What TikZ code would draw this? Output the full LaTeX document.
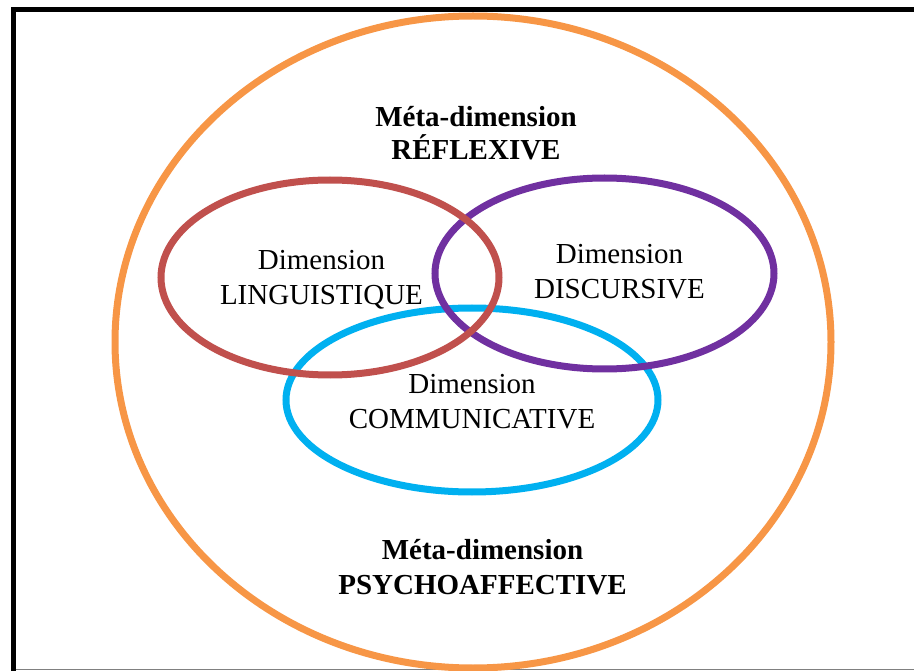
\documentclass[tikz,border=0pt]{standalone}
\usepackage{fontspec}
\setmainfont{Liberation Serif}
\usepackage{tikz}
\usetikzlibrary{positioning}

\definecolor{ringorange}{HTML}{F79646}
\definecolor{ringred}{HTML}{C0504D}
\definecolor{ringpurple}{HTML}{7030A0}
\definecolor{ringblue}{HTML}{00B0F0}

\begin{document}
\begin{tikzpicture}[
    x=1pt, y=-1pt,
    ring/.style={line width=7pt},
    dimlabel/.style={align=center, inner sep=0pt, font=\fontsize{29}{35}\selectfont},
    metalabel/.style={align=center, inner sep=0pt, font=\fontsize{29}{35}\selectfont\bfseries}
]
\useasboundingbox (0,0) rectangle (914,671);

% Frame
\draw[line width=5pt, line cap=round] (13.5,671) -- (13.5,10) -- (914,10);
\draw[gray, line width=1pt] (16,669.5) -- (914,669.5);

% Outer meta-dimension
\draw[ring, ringorange] (473,342) ellipse [x radius=358, y radius=326];

% Three dimensions
\draw[ring, ringblue] (472,400) ellipse [x radius=186, y radius=92];
\draw[ring, ringpurple] (604.5,273.5) ellipse [x radius=169.5, y radius=95.5];
\draw[ring, ringred] (330,277.5) ellipse [x radius=169, y radius=97.5];

% Labels
\node[metalabel] (reflexive) at (476,133) {Méta-dimension\\[-2pt]RÉFLEXIVE};
\node[dimlabel] (linguistique) at (321.5,280) {Dimension\\LINGUISTIQUE};
\node[dimlabel] (discursive) at (619.5,272) {Dimension\\DISCURSIVE};
\node[dimlabel] (communicative) at (472,402) {Dimension\\COMMUNICATIVE};
\node[metalabel] (psychoaffective) at (482.5,567) {Méta-dimension\\PSYCHOAFFECTIVE};
\end{tikzpicture}
\end{document}
